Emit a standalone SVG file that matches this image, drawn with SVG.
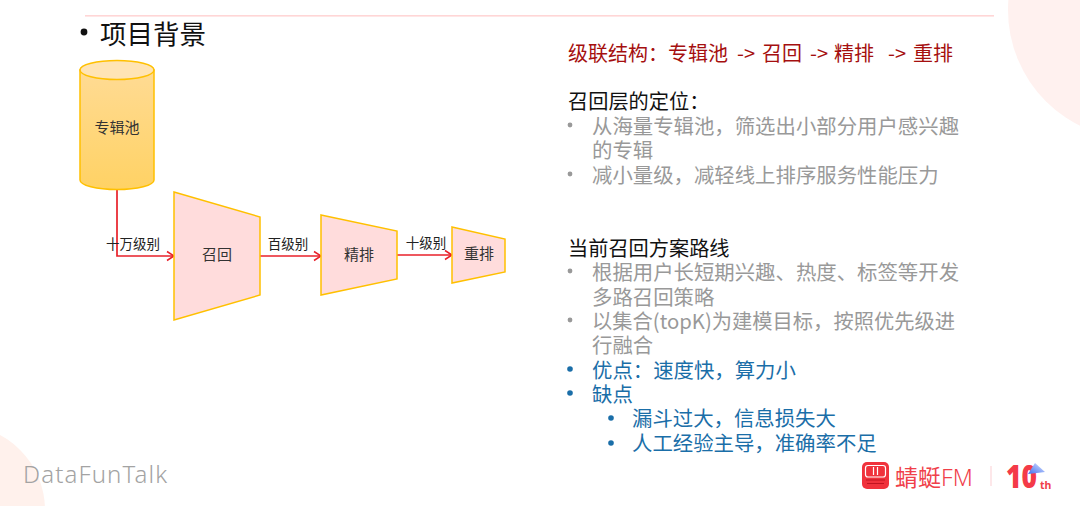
<svg xmlns="http://www.w3.org/2000/svg" width="1080" height="506" viewBox="0 0 1080 506">
<style>
text{font-family:"Noto Sans CJK SC","Noto Sans",sans-serif;white-space:pre}
.node{fill:#ffdcdc;stroke:#ffc000;stroke-width:1.5}
.nl{font-size:15px;fill:#333;text-anchor:middle}
.el{font-size:13.5px;fill:#222;text-anchor:middle}
.wire{fill:none;stroke:#e8202a;stroke-width:1.7}
.h{font-size:20.2px;fill:#111}
.r{font-size:20px;fill:#a50f0f}
.g{font-size:20.4px;fill:#999}
.b{font-size:20.4px;fill:#1a6ea8}
.gd{fill:#999}.bd{fill:#1a6ea8}
</style>
<defs>
<linearGradient id="cyl" x1="0" y1="0" x2="0" y2="1"><stop offset="0" stop-color="#ffdb94"/><stop offset="1" stop-color="#ffd264"/></linearGradient>
<linearGradient id="tri" x1="0" y1="1" x2="1" y2="0"><stop offset="0" stop-color="#3f6cf0"/><stop offset="1" stop-color="#dfe9ff"/></linearGradient>
<marker id="arr" markerUnits="userSpaceOnUse" markerWidth="12" markerHeight="12" refX="9" refY="6" orient="auto"><path d="M2,1.500 L9,6 L2,10.500" fill="none" stroke="#e8202a" stroke-width="1.5"/></marker>
</defs>
<rect width="1080" height="506" fill="#fff"/>
<circle cx="1137" cy="10" r="129" fill="#fff1ef"/>
<circle cx="-40" cy="510" r="85" fill="#fff1ec"/>
<rect x="85" y="15" width="909" height="1.6" fill="#ffd6d6"/>
<circle cx="84" cy="32" r="3.4" fill="#111"/>
<text x="100" y="44" font-size="26.5" fill="#111">项目背景</text>

<g id="connectors">
<path class="wire" marker-end="url(#arr)" d="M117,189 V256 H174"/>
<path class="wire" marker-end="url(#arr)" d="M260,256 H321"/>
<path class="wire" marker-end="url(#arr)" d="M397,255 H452"/>
<text class="el" x="133" y="249">十万级别</text>
<text class="el" x="288" y="249">百级别</text>
<text class="el" x="426" y="248">十级别</text>
</g>

<g id="node-pool">
<path d="M80,70 V180 A37,9.5 0 0 0 154,180 V70 Z" fill="url(#cyl)" stroke="#ffc000" stroke-width="1.5"/>
<ellipse cx="117" cy="70" rx="37" ry="9.5" fill="#ffe4b4" stroke="#ffc000" stroke-width="1.5"/>
<text class="nl" x="117" y="133">专辑池</text>
</g>
<g id="node-recall">
<polygon class="node" points="174,192 260,217 260,295 174,320"/>
<text class="nl" x="217" y="260">召回</text>
</g>
<g id="node-rank">
<polygon class="node" points="321,215 397,231 397,279 321,295"/>
<text class="nl" x="359" y="260">精排</text>
</g>
<g id="node-rerank">
<polygon class="node" points="452,227 505,239 505,272 452,283"/>
<text class="nl" x="479" y="259">重排</text>
</g>

<g id="text-right">
<text class="r" y="61"><tspan x="568">级联结构：专辑池</tspan><tspan x="737">-&gt;</tspan><tspan x="762">召回</tspan><tspan x="810">-&gt;</tspan><tspan x="834">精排</tspan><tspan x="888">-&gt;</tspan><tspan x="913">重排</tspan></text>
<text class="h" x="568" y="109">召回层的定位：</text>
<circle class="gd" cx="570" cy="125" r="2.4"/>
<text class="g" x="592" y="134">从海量专辑池，筛选出小部分用户感兴趣</text>
<text class="g" x="592" y="158">的专辑</text>
<circle class="gd" cx="570" cy="174" r="2.4"/>
<text class="g" x="592" y="183">减小量级，减轻线上排序服务性能压力</text>
<text class="h" x="568" y="256">当前召回方案路线</text>
<circle class="gd" cx="570" cy="271" r="2.4"/>
<text class="g" x="592" y="280">根据用户长短期兴趣、热度、标签等开发</text>
<text class="g" x="592" y="305">多路召回策略</text>
<circle class="gd" cx="570" cy="320" r="2.4"/>
<text class="g" x="592" y="329" textLength="363" lengthAdjust="spacingAndGlyphs">以集合(topK)为建模目标，按照优先级进</text>
<text class="g" x="592" y="353">行融合</text>
<circle class="bd" cx="570" cy="369" r="2.8"/>
<text class="b" x="592" y="378">优点：速度快，算力小</text>
<circle class="bd" cx="570" cy="393" r="2.8"/>
<text class="b" x="592" y="402">缺点</text>
<circle class="bd" cx="611" cy="418" r="2.8"/>
<text class="b" x="632" y="426">漏斗过大，信息损失大</text>
<circle class="bd" cx="611" cy="443" r="2.8"/>
<text class="b" x="632" y="451">人工经验主导，准确率不足</text>
</g>

<text x="23" y="483" font-size="24" fill="#a3a3a3" textLength="144" style="font-family:'Noto Sans',sans-serif;font-weight:300">DataFunTalk</text>

<g id="logo">
<rect x="862" y="462" width="27" height="27" rx="5" fill="#f0323c"/>
<rect x="865.500" y="465.500" width="20" height="11.500" rx="2.500" fill="none" stroke="#fff" stroke-width="1.2"/>
<path d="M873.500,467 V475 M877.500,467 V475" stroke="#fff" stroke-width="1.2" fill="none"/>
<path d="M866,480 H885 M867,483.500 H884" stroke="#c01420" stroke-width="1.2" fill="none"/>
<text x="895" y="486" font-size="23" fill="#f0404a">蜻蜓<tspan style="font-family:'Noto Sans',sans-serif;font-weight:300">FM</tspan></text>
<rect x="990.500" y="466" width="1" height="20" fill="#fbd0d3"/>
<text x="1006" y="488" font-size="32" font-weight="900" fill="#f43a48" style="font-family:'Noto Sans',sans-serif" textLength="31" lengthAdjust="spacingAndGlyphs">10</text>
<polygon points="1028,474 1035,463 1045,472" fill="url(#tri)"/>
<text x="1040" y="489" font-size="10.500" font-weight="700" fill="#f0404a" style="font-family:'Noto Sans',sans-serif">th</text>
</g>
</svg>
